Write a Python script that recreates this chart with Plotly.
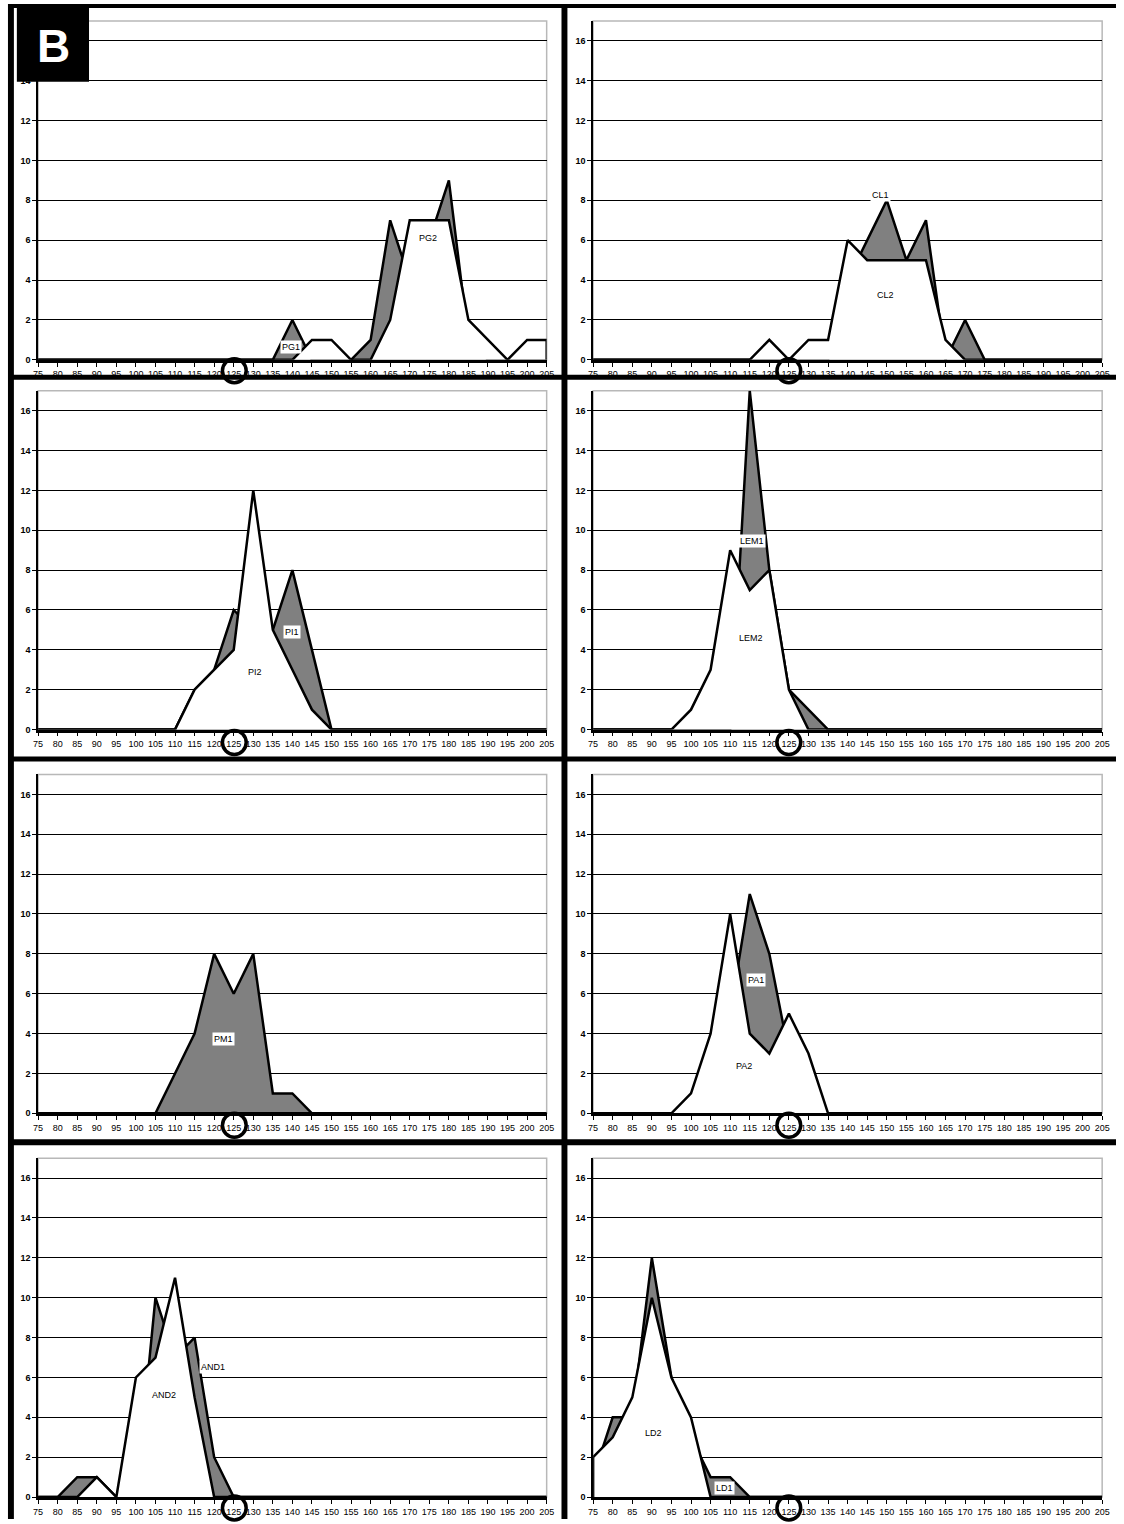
import plotly.graph_objects as go

# ---------------- data ----------------
categories = list(range(75, 210, 5))          # 75 .. 205
x_tick_labels = [str(c) for c in categories]
y_tick_values = list(range(0, 17, 2))         # 0 .. 16
y_max = 17

#        75 80 85 90 95 100 105 110 115 120 125 130 135 140 145 150 155 160 165 170 175 180 185 190 195 200 205
PG1  = [0, 0, 0, 0, 0, 0,  0,  0,  0,  0,  0,  0,  0,  2,  0,  0,  0,  1,  7,  4,  6,  9,  1,  0,  0,  0,  0]
PG2  = [0, 0, 0, 0, 0, 0,  0,  0,  0,  0,  0,  0,  0,  0,  1,  1,  0,  0,  2,  7,  7,  7,  2,  1,  0,  1,  1]
CL1  = [0, 0, 0, 0, 0, 0,  0,  0,  0,  0,  0,  0,  0,  4,  6,  8,  5,  7,  0,  2,  0,  0,  0,  0,  0,  0,  0]
CL2  = [0, 0, 0, 0, 0, 0,  0,  0,  0,  1,  0,  1,  1,  6,  5,  5,  5,  5,  1,  0,  0,  0,  0,  0,  0,  0,  0]
PI1  = [0, 0, 0, 0, 0, 0,  0,  0,  2,  3,  6,  5,  5,  8,  4,  0,  0,  0,  0,  0,  0,  0,  0,  0,  0,  0,  0]
PI2  = [0, 0, 0, 0, 0, 0,  0,  0,  2,  3,  4, 12,  5,  3,  1,  0,  0,  0,  0,  0,  0,  0,  0,  0,  0,  0,  0]
LEM1 = [0, 0, 0, 0, 0, 0,  0,  0, 17,  8,  2,  1,  0,  0,  0,  0,  0,  0,  0,  0,  0,  0,  0,  0,  0,  0,  0]
LEM2 = [0, 0, 0, 0, 0, 1,  3,  9,  7,  8,  2,  0,  0,  0,  0,  0,  0,  0,  0,  0,  0,  0,  0,  0,  0,  0,  0]
PM1  = [0, 0, 0, 0, 0, 0,  0,  2,  4,  8,  6,  8,  1,  1,  0,  0,  0,  0,  0,  0,  0,  0,  0,  0,  0,  0,  0]
PM2  = [0, 0, 0, 0, 0, 0,  0,  0,  0,  0,  0,  0,  0,  0,  0,  0,  0,  0,  0,  0,  0,  0,  0,  0,  0,  0,  0]
PA1  = [0, 0, 0, 0, 0, 0,  2,  5, 11,  8,  3,  0,  0,  0,  0,  0,  0,  0,  0,  0,  0,  0,  0,  0,  0,  0,  0]
PA2  = [0, 0, 0, 0, 0, 1,  4, 10,  4,  3,  5,  3,  0,  0,  0,  0,  0,  0,  0,  0,  0,  0,  0,  0,  0,  0,  0]
AND1 = [0, 0, 1, 1, 0, 0, 10,  7,  8,  2,  0,  0,  0,  0,  0,  0,  0,  0,  0,  0,  0,  0,  0,  0,  0,  0,  0]
AND2 = [0, 0, 0, 1, 0, 6,  7, 11,  5,  0,  0,  0,  0,  0,  0,  0,  0,  0,  0,  0,  0,  0,  0,  0,  0,  0,  0]
LD1  = [1, 4, 4, 12, 6, 3, 1,  1,  0,  0,  0,  0,  0,  0,  0,  0,  0,  0,  0,  0,  0,  0,  0,  0,  0,  0,  0]
LD2  = [2, 3, 5, 10, 6, 4, 0,  0,  0,  0,  0,  0,  0,  0,  0,  0,  0,  0,  0,  0,  0,  0,  0,  0,  0,  0,  0]

series_names = [("PG1", "PG2"), ("CL1", "CL2"), ("PI1", "PI2"), ("LEM1", "LEM2"),
                ("PM1", "PM2"), ("PA1", "PA2"), ("AND1", "AND2"), ("LD1", "LD2")]
series_values = {"PG1": PG1, "PG2": PG2, "CL1": CL1, "CL2": CL2, "PI1": PI1, "PI2": PI2,
                 "LEM1": LEM1, "LEM2": LEM2, "PM1": PM1, "PM2": PM2, "PA1": PA1, "PA2": PA2,
                 "AND1": AND1, "AND2": AND2, "LD1": LD1, "LD2": LD2}

# data-label anchors (data coordinates), None -> no label
label_pos = {
    "PG1": (139.6, 0.63), "PG2": (174.7, 6.1),
    "CL1": (148.5, 8.25), "CL2": (149.7, 3.25),
    "PI1": (140.0, 4.9), "PI2": (130.5, 2.9),
    "LEM1": (115.7, 9.45), "LEM2": (115.3, 4.6),
    "PM1": (122.4, 3.75), "PM2": None,
    "PA1": (116.7, 6.7), "PA2": (113.6, 2.35),
    "AND1": (119.8, 6.5), "AND2": (107.1, 5.1),
    "LD1": (108.6, 0.43), "LD2": (90.4, 3.2),
}

# ---------------- layout geometry (pixels) ----------------
W, H = 1124, 1524
col_x = [(33.5, 548.0), (595.0, 1110.0)]
row_zero = [361, 732, 1117, 1502]
plot_h = 340
label_y = [372, 745, 1129, 1513]
circle_cx = [232.0, 793.0]


def px(x):
    return x / W


def py(y):
    return 1 - y / H


fig = go.Figure()
layout = dict(
    width=W, height=H, margin=dict(l=0, r=0, t=0, b=0),
    paper_bgcolor="white", plot_bgcolor="white", showlegend=False,
    font=dict(family="Liberation Sans, Arial, sans-serif", color="black"),
)
shapes = []
annotations = []

FONT = "Liberation Sans, Arial, sans-serif"
GRAY = "#808080"
for i, (n1, n2) in enumerate(series_names):
    r, c = divmod(i, 2)
    k = i + 1
    xa = "x" if k == 1 else f"x{k}"
    ya = "y" if k == 1 else f"y{k}"
    xkey = "xaxis" if k == 1 else f"xaxis{k}"
    ykey = "yaxis" if k == 1 else f"yaxis{k}"
    x0, x1 = col_x[c]
    z = row_zero[r]
    layout[xkey] = dict(
        domain=[px(x0), px(x1)], anchor=ya, range=[categories[0], categories[-1]],
        tickmode="array", tickvals=categories, ticktext=x_tick_labels, tickangle=0,
        ticks="outside", ticklen=4, tickwidth=1, tickcolor="black",
        showline=True, linecolor="black", linewidth=2.5, showgrid=False, zeroline=False,
        tickfont=dict(size=9, family=FONT, color="black"), fixedrange=True,
    )
    layout[ykey] = dict(
        domain=[py(z), py(z - plot_h)], anchor=xa, range=[0, y_max],
        tickmode="array", tickvals=y_tick_values, ticks="outside", ticklen=4,
        tickwidth=1, tickcolor="black", showline=True, linecolor="black", linewidth=1.5,
        showgrid=True, gridcolor="black", gridwidth=1, zeroline=False,
        tickfont=dict(size=9, family=FONT, color="black", weight="bold"),
        fixedrange=True,
    )
    # plot-area border (light gray)
    shapes.append(dict(type="rect", xref=f"{xa} domain", yref=f"{ya} domain",
                       x0=0, x1=1, y0=0, y1=1, line=dict(color="#b8b8b8", width=1.5),
                       layer="below"))
    for name, fillc in ((n1, GRAY), (n2, "white")):
        vals = series_values[name]
        xs = [categories[0]] + categories + [categories[-1]]
        ys = [0] + vals + [0]
        fig.add_trace(go.Scatter(
            x=xs, y=ys, xaxis=xa, yaxis=ya, mode="lines", fill="toself",
            fillcolor=fillc, line=dict(color="black", width=2.5), name=name,
            hoverinfo="skip",
        ))
        lp = label_pos[name]
        if lp is not None:
            is_first = name == n1
            annotations.append(dict(
                x=lp[0], y=lp[1], xref=xa, yref=ya, text=name, showarrow=False,
                xanchor="center", yanchor="middle",
                font=dict(size=9, family=FONT, color="black"),
                bgcolor="white" if is_first else "rgba(0,0,0,0)", borderpad=1,
            ))

# thick black frame / dividers
BLACK = "black"
bands = [
    (6, 4, 1124, 8),        # top
    (3, 4, 9, 1524),        # left
    (563, 4, 569, 1524),    # centre vertical
    (4, 376, 1124, 381),    # row 1/2
    (4, 759, 1124, 764),    # row 2/3
    (4, 1143, 1124, 1149),  # row 3/4
]
for (a, b, cc, d) in bands:
    shapes.append(dict(type="rect", xref="paper", yref="paper", x0=px(a), x1=px(cc),
                       y0=py(d), y1=py(b), fillcolor=BLACK, line=dict(width=0), layer="above"))

# circles around 125
rad = 12
for r in range(4):
    for c in range(2):
        cx, cy = circle_cx[c], label_y[r]
        shapes.append(dict(type="circle", xref="paper", yref="paper",
                           x0=px(cx - rad), x1=px(cx + rad), y0=py(cy + rad), y1=py(cy - rad),
                           line=dict(color="black", width=3.5), fillcolor="rgba(0,0,0,0)",
                           layer="above"))

# "B" panel tag
shapes.append(dict(type="rect", xref="paper", yref="paper", x0=px(12), x1=px(85),
                   y0=py(82), y1=py(8), fillcolor="black", line=dict(width=0), layer="above"))
annotations.append(dict(x=px(49), y=py(46), xref="paper", yref="paper", text="<b>B</b>",
                        showarrow=False, xanchor="center", yanchor="middle",
                        font=dict(size=46, color="white", family=FONT)))

layout["shapes"] = shapes
layout["annotations"] = annotations
fig.update_layout(**layout)
fig.write_html("out.html")
